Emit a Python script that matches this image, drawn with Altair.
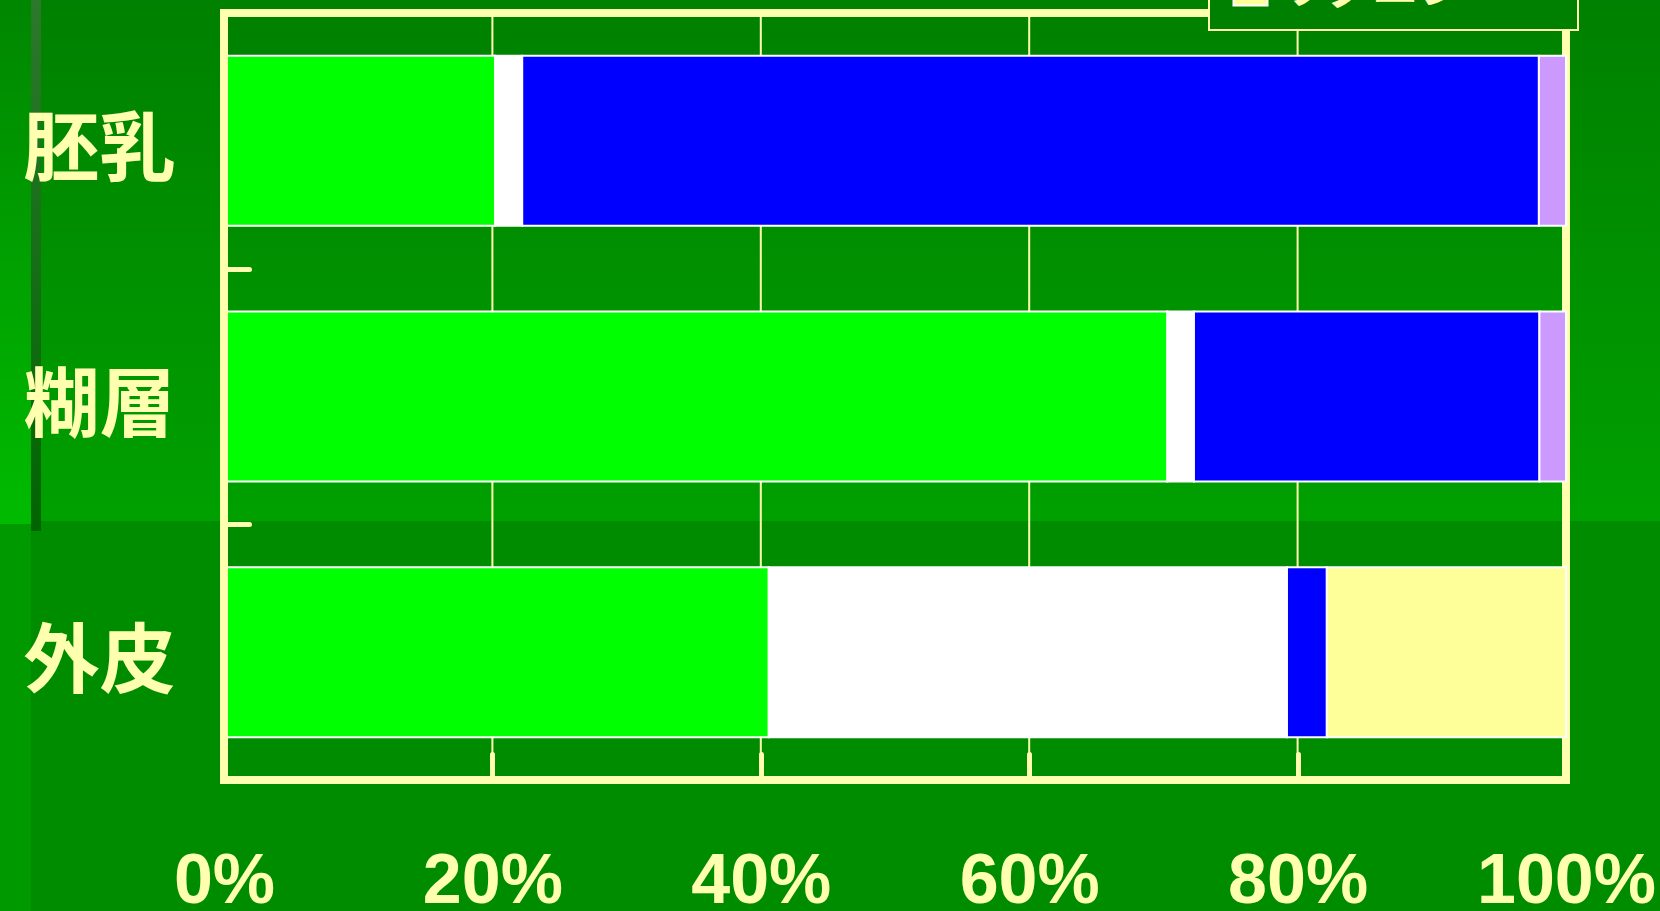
import altair as alt
import pandas as pd

# Cell-wall composition of three grain tissues (shares of each component)
tissues = ["胚乳", "糊層", "外皮"]
components = ["アラビノキシラン", "セルロース", "β-グルカン", "グルコマンナン", "リグニン"]
component_colors = ["#00ff00", "#ffffff", "#0000ff", "#cc99ff", "#ffff99"]

endosperm = [20, 2, 75, 2, 0]
aleurone = [71, 2, 26, 2, 0]
husk = [41, 39, 3, 0, 18]

pct_ticks = [0, 0.2, 0.4, 0.6, 0.8, 1.0]
grid_at = [0.2, 0.4, 0.6, 0.8]

CREAM = "#ffffb0"
W, H = 1342, 767
LEFT, TOP = 224, 13

rows = []
for tissue, vals in zip(tissues, [endosperm, aleurone, husk]):
    for i, (comp, v) in enumerate(zip(components, vals)):
        if v > 0:
            rows.append({"tissue": tissue, "component": comp, "rank": i, "value": v})
df = pd.DataFrame(rows)

one = alt.Data(values=[{"k": 0}])

x_axis = alt.Axis(
    values=pct_ticks, format=".0%", title=None, domain=False, grid=False,
    offset=-26, tickSize=26, tickWidth=5, tickColor=CREAM, tickCap="round",
    labelPadding=67, labelFont="Liberation Sans", labelFontSize=70,
    labelFontWeight="bold", labelColor=CREAM, labelFlush=False,
    labelOverlap=False, labelLimit=400, zindex=1,
)


def vgrad(top, bottom):
    return alt.LinearGradient(
        gradient="linear",
        stops=[alt.GradientStop(color=top, offset=0), alt.GradientStop(color=bottom, offset=1)],
        x1=0, x2=0, y1=0, y2=1,
    )


def backdrop(x0, x1, y0, y1, fill):
    # slide backdrop panels, given in page pixels
    return alt.Chart(one).mark_rect(fill=fill, strokeWidth=0).encode(
        x=alt.value(x0 - LEFT), x2=alt.value(x1 - LEFT),
        y=alt.value(y0 - TOP), y2=alt.value(y1 - TOP),
    )


bg_upper = backdrop(0, 1660, 0, 521, vgrad("#008000", "#00a000"))
bg_strip_up = backdrop(0, 31, 0, 524, vgrad("#008600", "#00bb00"))
bg_strip_low = backdrop(0, 31, 524, 911, "#009a00")
bg_dark = backdrop(31, 41, 0, 531, vgrad("#2c782c", "#006400"))

grid = alt.Chart(pd.DataFrame({"g": grid_at})).mark_rule(
    color=CREAM, strokeWidth=2
).encode(x=alt.X("g:Q", axis=x_axis))

frame = alt.Chart(one).mark_rect(
    filled=False, stroke=CREAM, strokeWidth=8
).encode(x=alt.datum(0), x2=alt.datum(1))

bars = alt.Chart(df).mark_bar(
    stroke="white", strokeWidth=2, height={"band": 0.665}
).encode(
    x=alt.X(
        "value:Q",
        stack="normalize",
        scale=alt.Scale(domain=[0, 1], nice=False),
        axis=x_axis,
    ),
    y=alt.Y(
        "tissue:N",
        sort=tissues,
        scale=alt.Scale(paddingInner=0, paddingOuter=0),
        axis=alt.Axis(
            title=None, domain=False, grid=False,
            offset=-25, tickSize=25, tickWidth=5, tickColor=CREAM, tickCap="round",
            tickBand="extent", labelAlign="center", labelPadding=125,
            labelFont="Noto Sans CJK JP", labelFontSize=76, labelFontWeight="bold",
            labelColor=CREAM, labelOffset=11, zindex=1,
        ),
    ),
    color=alt.Color(
        "component:N",
        sort=components,
        scale=alt.Scale(domain=components, range=component_colors),
        legend=alt.Legend(
            title=None, orient="none", legendX=985, legendY=-298,
            direction="vertical", symbolType="square", symbolSize=1156,
            symbolStrokeColor="white", symbolStrokeWidth=2, symbolOpacity=1,
            labelFont="Noto Sans CJK JP", labelFontSize=47, labelFontWeight="bold",
            labelColor=CREAM, labelLimit=290, labelOffset=4, rowPadding=10,
            padding=18, strokeColor=CREAM, fillColor="#008000",
        ),
    ),
    order=alt.Order("rank:Q", sort="ascending"),
)

left_edge = alt.Chart(one).mark_rule(color=CREAM, strokeWidth=8).encode(x=alt.datum(0))

chart = alt.layer(
    bg_upper, bg_strip_up, bg_strip_low, bg_dark, grid, frame, bars, left_edge
).properties(
    width=W,
    height=H,
    padding={"left": LEFT, "top": TOP, "right": 1660 - LEFT - W, "bottom": 911 - TOP - H},
    autosize=alt.AutoSizeParams(type="none"),
).configure(
    background="#008c00"
).configure_view(
    stroke=None
).configure_legend(
    strokeWidth=2
)

chart.save("out.html", embed_options={"renderer": "svg", "actions": False})
